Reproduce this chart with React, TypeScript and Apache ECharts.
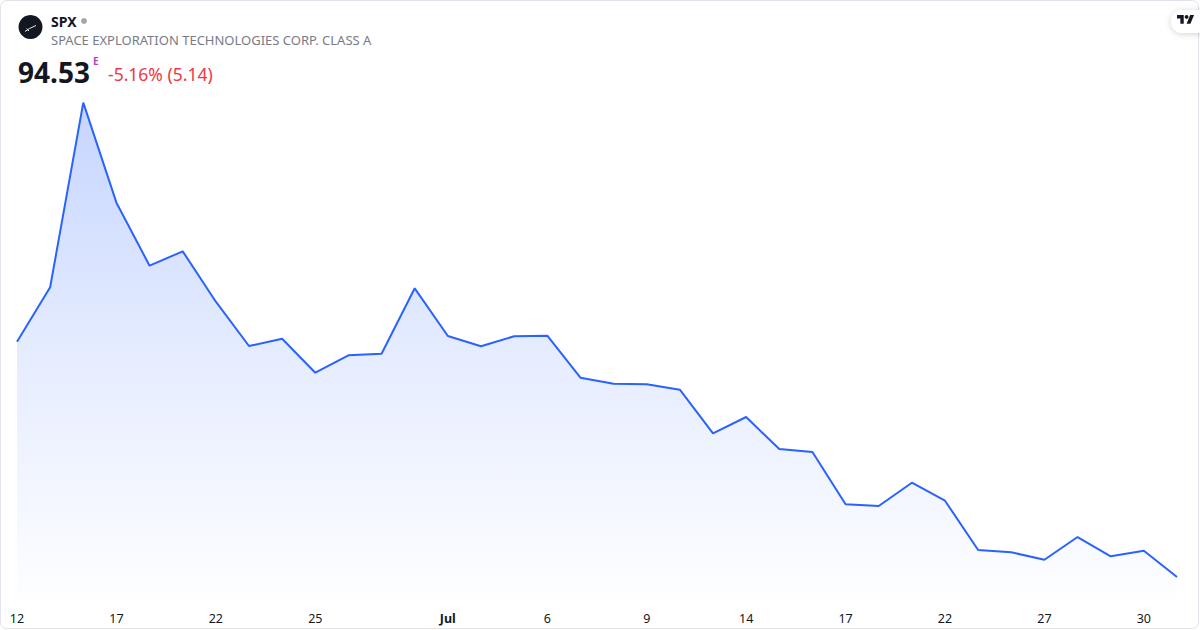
import React, { useEffect, useRef } from "react";
import * as echarts from "echarts";

// Trading days (Jun 12 – Jul 31)
const dates = [
  "06-12", "06-15", "06-16", "06-17", "06-18", "06-19", "06-22", "06-23", "06-24", "06-25",
  "06-26", "06-29", "06-30", "07-01", "07-02", "07-03", "07-06", "07-07", "07-08", "07-09",
  "07-10", "07-13", "07-14", "07-15", "07-16", "07-17", "07-20", "07-21", "07-22", "07-23",
  "07-24", "07-27", "07-28", "07-29", "07-30", "07-31",
];

// Tick labels shown under the axis (empty = no label)
const tickLabels = [
  "12", "", "", "17", "", "", "22", "", "", "25",
  "", "", "", "Jul", "", "", "6", "", "", "9",
  "", "", "14", "", "", "17", "", "", "22", "",
  "", "27", "", "", "30", "",
];

// Closing prices
const prices = [
  140.53, 151.17, 187.26, 167.71, 155.39, 158.2, 148.35, 139.69, 141.12, 134.47,
  137.87, 138.19, 150.97, 141.65, 139.63, 141.59, 141.7, 133.49, 132.32, 132.2,
  131.15, 122.62, 125.81, 119.55, 118.97, 108.74, 108.41, 112.97, 109.45, 99.81,
  99.36, 97.91, 102.35, 98.58, 99.67, 94.53,
];

const TV_PATH = "M14 22H7V11H0V4h14v18zM28 22h-8l7.5-18h8L28 22z";
let registered = false;
function ensureShapes() {
  if (registered) return;
  echarts.graphic.registerShape("tvlogo", echarts.graphic.extendPath(TV_PATH, {}) as any);
  registered = true;
}

const FONT = "'Noto Sans', 'Open Sans', sans-serif";

export default function App() {
  const ref = useRef<HTMLDivElement>(null);

  useEffect(() => {
    if (!ref.current) return;
    ensureShapes();
    const chart = echarts.init(ref.current, undefined, { renderer: "svg" });
    const last = prices[prices.length - 1];
    const prev = prices[prices.length - 2];
    const chg = last - prev;
    const pct = (chg / prev) * 100;
    const sc = 0.48;

    chart.setOption({
      animation: false,
      backgroundColor: "#ffffff",
      grid: { left: 17, right: 23, top: 37.5, bottom: 29.8, containLabel: false },
      xAxis: {
        type: "category",
        data: dates,
        boundaryGap: false,
        axisLine: { show: false },
        axisTick: { show: false },
        splitLine: { show: false },
        axisLabel: {
          interval: 0,
          margin: 12,
          color: "#131722",
          fontSize: 12.5,
          fontFamily: FONT,
          formatter: (_v: string, i: number) => {
            const t = tickLabels[i];
            if (!t) return "";
            return t === "Jul" ? "{b|" + t + "}" : t;
          },
          rich: {
            b: { fontWeight: "bold", fontSize: 12.5, color: "#131722", fontFamily: FONT },
          },
        },
      },
      yAxis: {
        type: "value",
        min: 90,
        max: 200,
        show: false,
        splitLine: { show: false },
      },
      series: [
        {
          type: "line",
          data: prices,
          symbol: "none",
          lineStyle: { color: "#2962ff", width: 2 },
          itemStyle: { color: "#2962ff" },
          areaStyle: {
            origin: "start",
            color: new echarts.graphic.LinearGradient(0, 0, 0, 1, [
              { offset: 0, color: "rgba(41,98,255,0.38)" },
              { offset: 0.5, color: "rgba(41,98,255,0.17)" },
              { offset: 1, color: "rgba(41,98,255,0.01)" },
            ]),
          },
        },
      ],
      graphic: [
        {
          type: "rect",
          z: 100,
          shape: { x: 0.5, y: 0.5, width: 1198, height: 628, r: 6 },
          style: { fill: "none", stroke: "#e0e3eb", lineWidth: 1 },
          silent: true,
        },
        {
          type: "circle",
          z: 101,
          shape: { cx: 30.5, cy: 27, r: 12 },
          style: { fill: "#131722" },
        },
        {
          type: "polyline",
          z: 102,
          shape: { points: [[25, 31.5], [29.5, 28.5], [36, 25.5]] },
          style: { stroke: "#ffffff", lineWidth: 0.9, fill: "none" },
        },
        {
          type: "line",
          z: 102,
          shape: { x1: 26.5, y1: 28.5, x2: 29, y2: 31 },
          style: { stroke: "#ffffff", lineWidth: 0.9 },
        },
        {
          type: "text",
          z: 101,
          x: 51,
          y: 21.3,
          style: {
            text: "SPX",
            font: "bold 14px " + FONT,
            fill: "#131722",
            verticalAlign: "middle",
          },
        },
        {
          type: "circle",
          z: 101,
          shape: { cx: 84, cy: 21, r: 3 },
          style: { fill: "#a3a6af" },
        },
        {
          type: "text",
          z: 101,
          x: 51,
          y: 40.3,
          style: {
            text: "SPACE EXPLORATION TECHNOLOGIES CORP. CLASS A",
            font: "13px " + FONT,
            fill: "#787b86",
            verticalAlign: "middle",
          },
        },
        {
          type: "text",
          z: 101,
          x: 18,
          y: 71.5,
          style: {
            text: last.toFixed(2),
            font: "bold 28px " + FONT,
            fill: "#131722",
            verticalAlign: "middle",
          },
        },
        {
          type: "text",
          z: 101,
          x: 93,
          y: 61,
          style: {
            text: "E",
            font: "bold 10px " + FONT,
            fill: "#ab47bc",
            verticalAlign: "middle",
          },
        },
        {
          type: "text",
          z: 101,
          x: 108,
          y: 73.5,
          style: {
            text: pct.toFixed(2) + "% (" + Math.abs(chg).toFixed(2) + ")",
            font: "17.5px " + FONT,
            fill: "#f23645",
            verticalAlign: "middle",
          },
        },
        {
          type: "rect",
          z: 101,
          shape: { x: 1171, y: 10, width: 40, height: 23, r: 11.5 },
          style: {
            fill: "#ffffff",
            shadowBlur: 6,
            shadowColor: "rgba(0,0,0,0.18)",
            shadowOffsetY: 1,
          },
        },
        {
          type: "tvlogo",
          z: 102,
          x: 1177,
          y: 13.1,
          scaleX: sc,
          scaleY: sc,
          style: { fill: "#131722" },
        },
        {
          type: "circle",
          z: 102,
          shape: { cx: 1177 + 20 * sc, cy: 13.1 + 8 * sc, r: 4 * sc },
          style: { fill: "#131722" },
        },
      ],
    });

    return () => {
      chart.dispose();
    };
  }, []);

  return (
    <div
      ref={ref}
      style={{ position: "fixed", left: 0, top: 0, width: 1200, height: 630 }}
    />
  );
}
